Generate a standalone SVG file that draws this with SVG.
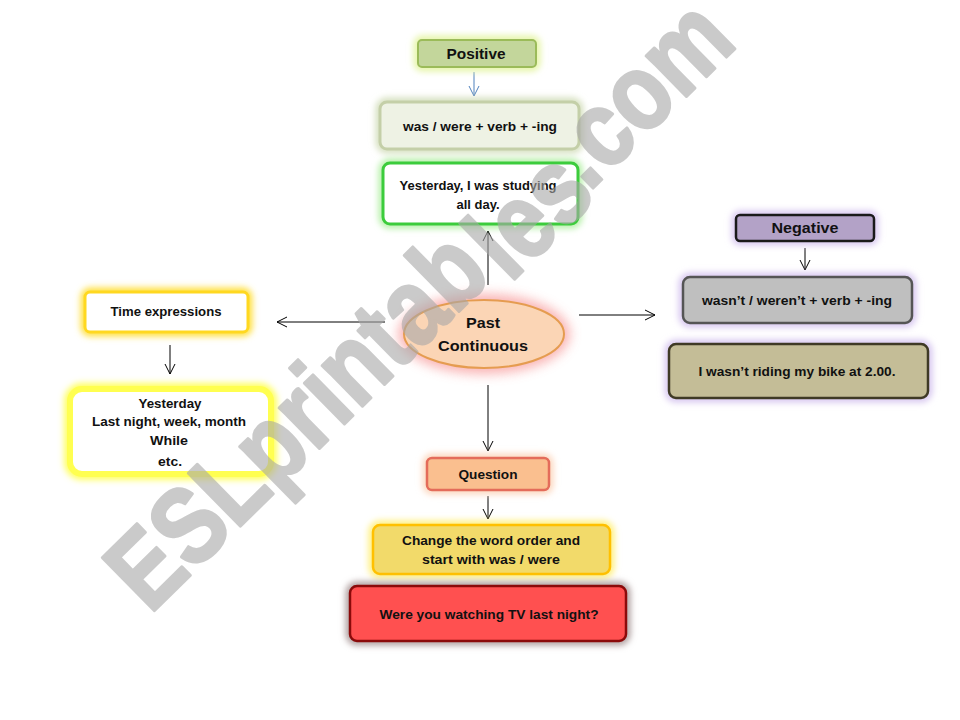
<svg xmlns="http://www.w3.org/2000/svg" width="960" height="720" viewBox="0 0 960 720">
<defs>
<filter id="blur" x="-20%" y="-40%" width="140%" height="180%"><feGaussianBlur stdDeviation="3"/></filter>
<filter id="blur2" x="-30%" y="-50%" width="160%" height="200%"><feGaussianBlur stdDeviation="6"/></filter>
<marker id="ah" viewBox="0 0 12 12" refX="11" refY="6" markerWidth="12" markerHeight="12" markerUnits="userSpaceOnUse" orient="auto"><path d="M1,1 L11,6 L1,11" fill="none" stroke="#000" stroke-width="1"/></marker>
<marker id="ahb" viewBox="0 0 12 12" refX="11" refY="6" markerWidth="12" markerHeight="12" markerUnits="userSpaceOnUse" orient="auto"><path d="M1,1 L11,6 L1,11" fill="none" stroke="#4f81bd" stroke-width="1"/></marker>
</defs>
<style>
text{font-family:"Liberation Sans",Arial,sans-serif;font-weight:bold;font-size:13px;fill:#111;text-anchor:middle}
.big{font-size:15px}
.glow{fill:none;stroke-width:9;filter:url(#blur)}
.conn line{stroke:#000;stroke-width:1;marker-end:url(#ah)}
.wm text{font-size:108px;fill:#a8a8a8;stroke:#a8a8a8;stroke-width:3;stroke-linejoin:round;text-anchor:start}
</style>
<rect width="960" height="720" fill="#fff"/>

<g class="conn">
<line x1="474" y1="72" x2="474" y2="96" style="stroke:#4f81bd;marker-end:url(#ahb)"/>
<line x1="488" y1="285" x2="488" y2="231"/>
<line x1="385" y1="322" x2="277" y2="322"/>
<line x1="579" y1="315" x2="655" y2="315"/>
<line x1="488" y1="385" x2="488" y2="451"/>
<line x1="170" y1="345" x2="170" y2="374"/>
<line x1="805" y1="248" x2="805" y2="270"/>
<line x1="488" y1="496" x2="488" y2="519"/>
</g>

<g id="positive">
<rect class="glow" x="418" y="40" width="118" height="27" rx="4" stroke="#e6f5a8"/>
<rect x="418" y="40" width="118" height="27" rx="4" fill="#c3d69b" stroke="#9bbb59" stroke-width="2"/>
<text class="big" x="476" y="59" textLength="59" lengthAdjust="spacingAndGlyphs">Positive</text>
</g>

<g id="rule-positive">
<rect class="glow" x="380" y="102" width="199" height="47" rx="7" stroke="#d6e0bf"/>
<rect x="380" y="102" width="199" height="47" rx="7" fill="#eef2e4" stroke="#c4cfa8" stroke-width="3"/>
<text x="480" y="131" textLength="154" lengthAdjust="spacingAndGlyphs">was / were + verb + -ing</text>
</g>

<g id="example-positive">
<rect class="glow" x="383" y="163" width="195" height="61" rx="7" stroke="#b6f0a8"/>
<rect x="383" y="163" width="195" height="61" rx="7" fill="#fff" stroke="#3ccc3c" stroke-width="3"/>
<text x="478" y="190" textLength="157" lengthAdjust="spacingAndGlyphs">Yesterday, I was studying</text>
<text x="478" y="209" textLength="43" lengthAdjust="spacingAndGlyphs">all day.</text>
</g>

<g id="center">
<ellipse cx="484" cy="334" rx="86" ry="40" fill="#f8a0a0" filter="url(#blur2)" opacity="0.8"/>
<ellipse cx="484" cy="334" rx="80" ry="34" fill="#fbd5b5" stroke="#e59c50" stroke-width="2"/>
<text class="big" x="483" y="328" textLength="34" lengthAdjust="spacingAndGlyphs">Past</text>
<text class="big" x="483" y="351" textLength="90" lengthAdjust="spacingAndGlyphs">Continuous</text>
</g>

<g id="time-expressions">
<rect class="glow" x="85" y="292" width="163" height="40" rx="5" stroke="#ffe040"/>
<rect x="85" y="292" width="163" height="40" rx="5" fill="#fff" stroke="#ffd820" stroke-width="3"/>
<text x="166" y="316" textLength="111" lengthAdjust="spacingAndGlyphs">Time expressions</text>
</g>

<g id="time-list">
<rect class="glow" x="70" y="389" width="201" height="85" rx="12" stroke="#ffff60" style="stroke-width:12"/>
<rect x="70" y="389" width="201" height="85" rx="12" fill="#fff" stroke="#ffff50" stroke-width="6"/>
<text x="170" y="408" textLength="63" lengthAdjust="spacingAndGlyphs">Yesterday</text>
<text x="169" y="426" textLength="154" lengthAdjust="spacingAndGlyphs">Last night, week, month</text>
<text x="169" y="445" textLength="38" lengthAdjust="spacingAndGlyphs">While</text>
<text x="170" y="466" textLength="24" lengthAdjust="spacingAndGlyphs">etc.</text>
</g>

<g id="negative">
<rect class="glow" x="736" y="215" width="138" height="26" rx="4" stroke="#d8c8f0"/>
<rect x="736" y="215" width="138" height="26" rx="4" fill="#b3a2c7" stroke="#1a1a1a" stroke-width="2.5"/>
<text class="big" x="805" y="233" textLength="67" lengthAdjust="spacingAndGlyphs">Negative</text>
</g>

<g id="rule-negative">
<rect class="glow" x="683" y="277" width="229" height="46" rx="7" stroke="#d8c8f0"/>
<rect x="683" y="277" width="229" height="46" rx="7" fill="#bfbfbf" stroke="#555" stroke-width="2.5"/>
<text x="797" y="305" textLength="190" lengthAdjust="spacingAndGlyphs">wasn’t / weren’t + verb + -ing</text>
</g>

<g id="example-negative">
<rect class="glow" x="669" y="344" width="259" height="54" rx="7" stroke="#d8c8f0"/>
<rect x="669" y="344" width="259" height="54" rx="7" fill="#c4bd97" stroke="#3f3a25" stroke-width="2.5"/>
<text x="797" y="376" textLength="197" lengthAdjust="spacingAndGlyphs">I wasn’t riding my bike  at 2.00.</text>
</g>

<g id="question">
<rect class="glow" x="427" y="458" width="122" height="32" rx="5" stroke="#fcd8c0"/>
<rect x="427" y="458" width="122" height="32" rx="5" fill="#fabf8f" stroke="#e46c5a" stroke-width="2.5"/>
<text x="488" y="479" textLength="59" lengthAdjust="spacingAndGlyphs">Question</text>
</g>

<g id="rule-question">
<rect class="glow" x="373" y="525" width="237" height="49" rx="7" stroke="#fff080"/>
<rect x="373" y="525" width="237" height="49" rx="7" fill="#f2da6a" stroke="#ffc000" stroke-width="2.5"/>
<text x="491" y="545" textLength="178" lengthAdjust="spacingAndGlyphs">Change the word order and</text>
<text x="491" y="564" textLength="138" lengthAdjust="spacingAndGlyphs">start with was / were</text>
</g>

<g id="example-question">
<rect class="glow" x="350" y="586" width="276" height="55" rx="7" stroke="#b0a0a0"/>
<rect x="350" y="586" width="276" height="55" rx="7" fill="#ff5050" stroke="#8b0a0a" stroke-width="2.5"/>
<text x="489" y="619" textLength="219" lengthAdjust="spacingAndGlyphs">Were you  watching TV last night?</text>
</g>

<g class="wm" transform="translate(150,615) rotate(-44.5)" opacity="0.6">
<text x="0" y="0" textLength="482" lengthAdjust="spacingAndGlyphs">ESLprintab</text>
<text x="489" y="16" textLength="124" lengthAdjust="spacingAndGlyphs">les</text>
<text x="609" y="6" textLength="211" lengthAdjust="spacingAndGlyphs">.com</text>
</g>
</svg>
